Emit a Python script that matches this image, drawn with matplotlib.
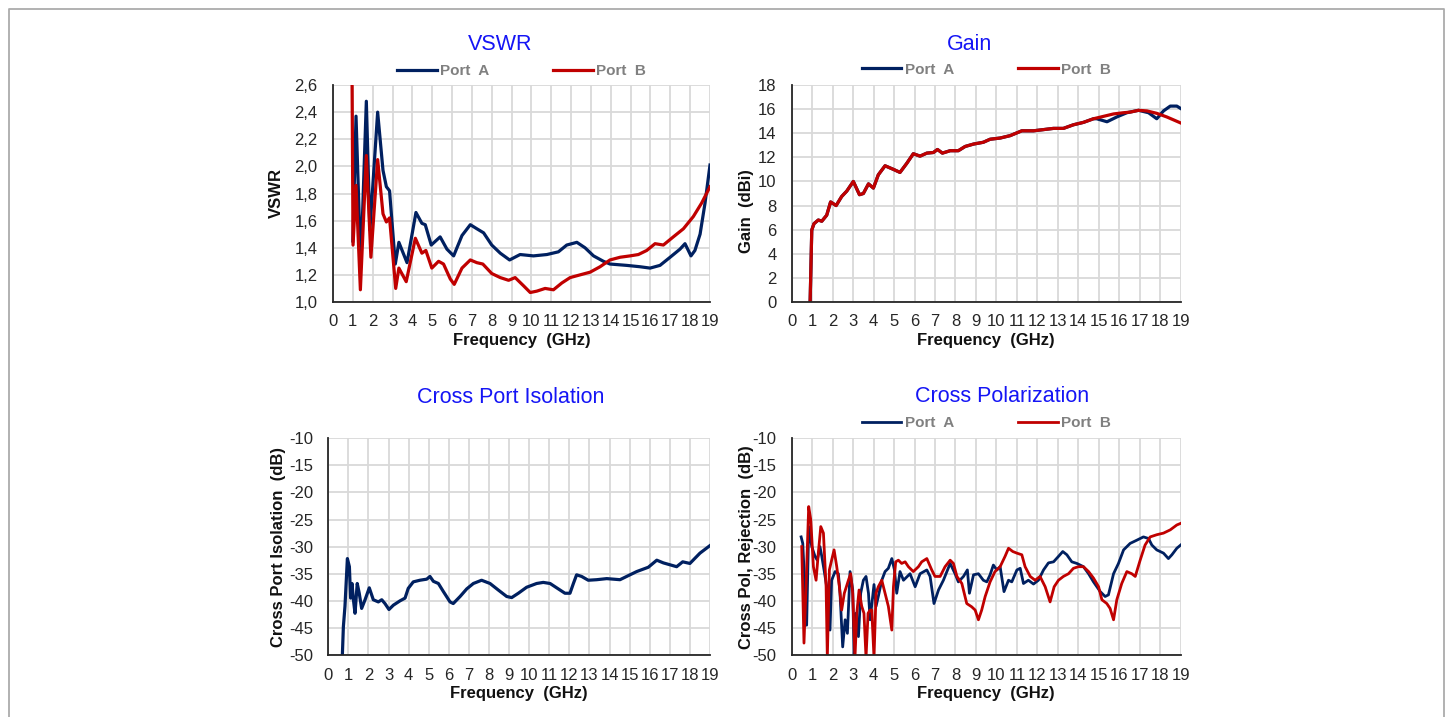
import numpy as np
import matplotlib
matplotlib.use('Agg')
import matplotlib.pyplot as plt
from matplotlib.lines import Line2D

plt.rcParams['font.family'] = ['Liberation Sans', 'DejaVu Sans']

BLUE = '#002060'
RED = '#C00000'
GRID = '#D9D9D9'

# ---- VSWR ----
vswr_a_f = [1.0, 1.16, 1.4, 1.68, 1.86, 2.25, 2.52, 2.69, 2.85, 3.14, 3.32, 3.73, 4.18, 4.48, 4.65, 4.95,
            5.4, 5.74, 6.08, 6.5, 6.92, 7.25, 7.59, 8.0, 8.43, 8.9, 9.43, 10.1, 10.78, 11.36, 11.78, 12.29,
            12.7, 13.13, 13.63, 13.96, 14.8, 15.47, 15.98, 16.48, 16.99, 17.49, 17.74, 18.04, 18.24, 18.5,
            18.75, 19.0]
vswr_a = [1.45, 2.37, 1.26, 2.48, 1.53, 2.40, 1.97, 1.85, 1.82, 1.28, 1.44, 1.29, 1.66, 1.58, 1.57, 1.42,
          1.48, 1.39, 1.34, 1.49, 1.57, 1.54, 1.51, 1.42, 1.36, 1.31, 1.35, 1.34, 1.35, 1.37, 1.42, 1.44,
          1.40, 1.34, 1.30, 1.28, 1.27, 1.26, 1.25, 1.27, 1.33, 1.39, 1.43, 1.34, 1.38, 1.50, 1.73, 2.01]
vswr_b_f = [0.95, 1.01, 1.16, 1.38, 1.68, 1.91, 2.25, 2.52, 2.69, 2.85, 3.16, 3.32, 3.69, 4.15, 4.48, 4.68,
            4.98, 5.32, 5.57, 5.91, 6.11, 6.5, 6.92, 7.25, 7.55, 8.0, 8.43, 8.85, 9.18, 9.6, 9.94, 10.27,
            10.69, 11.11, 11.53, 11.95, 12.45, 12.96, 13.46, 13.96, 14.47, 14.97, 15.39, 15.81, 16.23,
            16.65, 17.15, 17.66, 18.16, 18.58, 19.0]
vswr_b = [2.9, 1.42, 1.86, 1.09, 2.08, 1.33, 2.05, 1.65, 1.59, 1.62, 1.10, 1.25, 1.15, 1.47, 1.36, 1.38,
          1.25, 1.30, 1.28, 1.17, 1.13, 1.25, 1.31, 1.29, 1.28, 1.21, 1.18, 1.16, 1.18, 1.12, 1.07, 1.08,
          1.10, 1.09, 1.14, 1.18, 1.20, 1.22, 1.26, 1.31, 1.33, 1.34, 1.35, 1.38, 1.43,
          1.42, 1.48, 1.54, 1.63, 1.73, 1.85]

# ---- Gain ----
gain_f = [0.9, 0.98, 1.09, 1.3, 1.47, 1.71, 1.9, 2.17, 2.44, 2.69, 3.01, 3.31, 3.5, 3.75, 3.99, 4.23, 4.56,
          4.97, 5.29, 5.62, 5.94, 6.27, 6.6, 6.92, 7.12, 7.36, 7.74, 8.14, 8.47, 8.88, 9.36, 9.69, 10.18,
          10.67, 11.24, 11.81, 12.3, 12.78, 13.27, 13.76, 14.25, 14.74]
gain_common = [0.0, 5.97, 6.5, 6.8, 6.7, 7.2, 8.3, 8.0, 8.75, 9.2, 10.0, 8.9, 9.0, 9.8, 9.45, 10.55, 11.3,
               11.0, 10.75, 11.5, 12.3, 12.1, 12.35, 12.4, 12.65, 12.35, 12.55, 12.55, 12.9, 13.1, 13.25,
               13.5, 13.6, 13.8, 14.2, 14.2, 14.3, 14.4, 14.4, 14.7, 14.9, 15.2]
gain_a_tail_f = [14.9, 15.4, 15.88, 16.37, 16.94, 17.43, 17.83, 18.16, 18.49, 18.81, 19.0]
gain_a_tail = [15.2, 14.95, 15.35, 15.7, 15.9, 15.7, 15.2, 15.85, 16.25, 16.25, 16.05]
gain_b_tail_f = [15.23, 15.72, 16.2, 16.53, 16.94, 17.35, 17.83, 18.32, 19.0]
gain_b_tail = [15.4, 15.6, 15.7, 15.75, 15.9, 15.85, 15.65, 15.35, 14.85]

# ---- Cross Port Isolation ----
iso_f = [0.7, 0.75, 0.83, 0.95, 1.05, 1.11, 1.18, 1.25, 1.33, 1.44, 1.54, 1.66, 1.83, 2.04, 2.24, 2.49,
         2.66, 2.82, 3.02, 3.24, 3.57, 3.82, 3.98, 4.23, 4.56, 4.9, 5.06, 5.23, 5.48, 5.73, 6.06, 6.22,
         6.56, 6.89, 7.22, 7.63, 8.05, 8.46, 8.88, 9.13, 9.46, 9.87, 10.37, 10.7, 11.04, 11.45, 11.78,
         12.03, 12.2, 12.36, 12.61, 12.94, 13.36, 13.86, 14.52, 14.85, 15.35, 15.93, 16.35, 16.68, 17.34,
         17.64, 18.0, 18.5, 19.0]
iso = [-50, -44.8, -41, -32.2, -33.7, -39.5, -36.8, -39.8, -42.3, -36.8, -38.6, -41.4, -39.8, -37.6, -39.8,
       -40.2, -39.8, -40.5, -41.6, -40.8, -40.0, -39.5, -37.7, -36.5, -36.2, -36.0, -35.5, -36.4, -36.8,
       -38.3, -40.2, -40.5, -39.2, -37.8, -36.8, -36.2, -36.8, -38.0, -39.2, -39.4, -38.6, -37.5, -36.8,
       -36.6, -36.8, -37.8, -38.6, -38.6, -36.8, -35.2, -35.5, -36.2, -36.1, -35.9, -36.1, -35.5, -34.6,
       -33.8, -32.5, -33.0, -33.7, -32.8, -33.1, -31.2, -29.8]

# ---- Cross Polarization ----
xpol_a_f = [0.46, 0.54, 0.73, 0.83, 0.98, 1.14, 1.25, 1.38, 1.47, 1.58, 1.71, 1.87, 1.95, 2.12, 2.28, 2.36,
            2.49, 2.61, 2.72, 2.85, 2.98, 3.05, 3.14, 3.26, 3.37, 3.5, 3.63, 3.75, 3.83, 4.02, 4.12, 4.23,
            4.4, 4.56, 4.72, 4.89, 5.02, 5.13, 5.29, 5.46, 5.78, 6.03, 6.27, 6.6, 6.76, 6.95, 7.17, 7.41,
            7.74, 7.98, 8.14, 8.39, 8.58, 8.68, 8.88, 9.12, 9.36, 9.53, 9.69, 9.85, 10.02, 10.18, 10.37,
            10.59, 10.75, 11.0, 11.16, 11.32, 11.56, 11.81, 12.05, 12.3, 12.54, 12.79, 13.03, 13.24, 13.44,
            13.68, 13.93, 14.25, 14.5, 14.74, 15.07, 15.31, 15.47, 15.72, 15.96, 16.21, 16.53, 16.86, 17.18,
            17.43, 17.59, 17.83, 18.16, 18.4, 18.57, 18.81, 19.0]
xpol_a = [-28.2, -29.4, -44.5, -26.3, -30, -31.8, -32.5, -30, -31.8, -34.3, -37.4, -45.4, -36.2, -34.6, -35,
          -38.6, -48.5, -43.5, -46, -34.6, -38, -50.3, -42.3, -46.6, -38.6, -36.2, -35.5, -38.6, -43.5, -37,
          -41, -39.2, -36.2, -34.6, -34, -32.2, -34.3, -38.6, -34.6, -36.2, -35, -37.4, -35, -34.3, -35.5,
          -40.5, -38, -36.2, -33.1, -35, -36.5, -35.5, -34.3, -38.6, -35.2, -35, -36.2, -36.5, -35.2, -33.4,
          -34.3, -33.7, -38.3, -36.2, -36.5, -34.3, -34, -36.8, -36.2, -36.9, -36.2, -34.3, -33, -32.8,
          -31.8, -30.9, -31.5, -32.8, -33.1, -33.7, -35, -36.5, -38.3, -39.2, -38.9, -35, -33.1, -30.6,
          -29.4, -28.8, -28.2, -28.5, -29.7, -30.6, -31.2, -32.2, -31.5, -30.3, -29.7]
xpol_b_f = [0.49, 0.6, 0.7, 0.83, 0.93, 1.06, 1.19, 1.3, 1.42, 1.55, 1.68, 1.74, 1.84, 1.95, 2.07, 2.2, 2.33,
            2.44, 2.57, 2.77, 2.88, 2.98, 3.09, 3.18, 3.29, 3.42, 3.53, 3.63, 3.73, 3.83, 3.91, 4.02, 4.12,
            4.23, 4.4, 4.56, 4.72, 4.89, 4.97, 5.08, 5.21, 5.37, 5.54, 5.7, 5.94, 6.19, 6.35, 6.6, 6.84,
            7.0, 7.25, 7.49, 7.74, 7.9, 8.07, 8.31, 8.55, 8.79, 8.96, 9.12, 9.28, 9.45, 9.69, 9.93, 10.18,
            10.42, 10.59, 10.8, 11.0, 11.24, 11.4, 11.65, 11.89, 12.13, 12.38, 12.62, 12.82, 13.03, 13.27,
            13.52, 13.76, 14.0, 14.25, 14.5, 14.74, 14.99, 15.15, 15.39, 15.55, 15.72, 15.88, 16.12, 16.37,
            16.61, 16.78, 17.02, 17.26, 17.51, 17.83, 18.16, 18.49, 18.81, 19.0]
xpol_b = [-30, -47.8, -37.4, -22.6, -25, -33.7, -36.2, -31.2, -26.3, -27.5, -37.4, -50.5, -34.3, -32.5, -30.6,
          -33.7, -37.4, -41.7, -38.6, -36.2, -35, -38.6, -50.5, -42.3, -38, -41, -42.3, -50.5, -42.3, -41.7,
          -41.7, -50.5, -38.6, -37.4, -36.2, -38.6, -41, -45.4, -37.4, -32.8, -32.5, -33.1, -32.8, -33.7,
          -34.6, -33.7, -32.8, -32.2, -34.3, -35.5, -35.5, -33.7, -32.5, -33.1, -35.5, -36.8, -40.5, -41.1,
          -41.7, -43.5, -41.7, -39.2, -36.5, -34.6, -33.7, -31.8, -30.3, -30.9, -31.2, -31.5, -33.7, -35.5,
          -36.2, -35.5, -37.4, -40.2, -37.4, -36.2, -35.5, -35, -34, -33.7, -33.7, -34.6, -35.8, -37.4,
          -39.8, -40.5, -41.4, -43.5, -39.8, -36.8, -34.6, -35, -35.5, -32.5, -29.7, -28.2, -27.8, -27.5,
          -26.9, -26, -25.7]

freq_ticks = list(range(0, 20))

fig = plt.figure(figsize=(14.53, 7.17), dpi=100)

# light frame round the whole picture
fig.add_artist(Line2D([8.7 / 1453, 8.7 / 1453, 1443.7 / 1453, 1443.7 / 1453],
                      [0, 1 - 9 / 717, 1 - 9 / 717, 0], color='#ABABAB', lw=1.3))


def style_axes(ax, yticks, ylims, ylabel, ylab_x, ylab_y, fmt):
    ax.set_xlim(0, 19)
    ax.set_ylim(*ylims)
    ax.set_xticks(freq_ticks)
    ax.set_xticklabels([str(t) for t in freq_ticks])
    ax.set_yticks(yticks)
    ax.set_yticklabels([fmt(v) for v in yticks])
    ax.grid(True, color=GRID, lw=1.3)
    ax.set_axisbelow(True)
    for s in ['top', 'right']:
        ax.spines[s].set_visible(False)
    for s in ['left', 'bottom']:
        ax.spines[s].set_color('#262626')
        ax.spines[s].set_linewidth(1.3)
    ax.tick_params(length=0, labelsize=12, colors='#262626')
    ax.tick_params(axis='x', pad=9)
    ax.tick_params(axis='y', pad=11)
    ax.set_xlabel('Frequency  (GHz)', fontsize=12, fontweight='bold', va='center', color='#111111')
    ax.xaxis.set_label_coords(0.5, -0.178)
    ax.set_ylabel(ylabel, fontsize=12, fontweight='bold', va='center', color='#111111')
    ax.yaxis.set_label_coords(ylab_x, ylab_y)


def add_legend(ax, y):
    leg = ax.legend(loc='center', bbox_to_anchor=(0.5, y), ncol=2, frameon=False,
                    handlelength=2.6, handletextpad=0.2, columnspacing=4.2,
                    prop={'weight': 'bold', 'size': 11})
    for t in leg.get_texts():
        t.set_color('#808080')


W, H = 1453.0, 717.0


def rect(l, r, t, b):
    return [l / W, 1 - b / H, (r - l) / W, (b - t) / H]


comma = lambda v: ('%.1f' % v).replace('.', ',')
intfmt = lambda v: '%d' % v

# VSWR
ax1 = fig.add_axes(rect(333, 710, 85, 302))
ax1.plot(vswr_a_f, vswr_a, color=BLUE, lw=2.3, label='Port  A')
ax1.plot(vswr_b_f, vswr_b, color=RED, lw=2.3, label='Port  B')
style_axes(ax1, np.round(np.arange(1.0, 2.61, 0.2), 1), (1.0, 2.6), 'VSWR', -0.151, 0.5, comma)
add_legend(ax1, 1.065)

# Gain
ax2 = fig.add_axes(rect(791.7, 1180.7, 85, 302))
ax2.plot(gain_f + gain_a_tail_f, gain_common + gain_a_tail, color=BLUE, lw=2.3, label='Port  A')
ax2.plot(gain_f + gain_b_tail_f, gain_common + gain_b_tail, color=RED, lw=2.3, label='Port  B')
style_axes(ax2, list(range(0, 19, 2)), (0, 18), 'Gain  (dBi)', -0.116, 0.42, intfmt)
add_legend(ax2, 1.07)

# Cross Port Isolation
ax3 = fig.add_axes(rect(328.3, 710, 438.3, 655))
ax3.plot(iso_f, iso, color=BLUE, lw=2.3)
style_axes(ax3, list(range(-50, -9, 5)), (-50, -10), 'Cross Port Isolation  (dB)', -0.131, 0.5, intfmt)

# Cross Polarization
ax4 = fig.add_axes(rect(791.7, 1180.7, 438.3, 655))
ax4.plot(xpol_a_f, xpol_a, color=BLUE, lw=2.0, label='Port  A')
ax4.plot(xpol_b_f, xpol_b, color=RED, lw=2.0, label='Port  B')
style_axes(ax4, list(range(-50, -9, 5)), (-50, -10), 'Cross Pol, Rejection  (dB)', -0.116, 0.5, intfmt)
add_legend(ax4, 1.069)

# titles
title_kw = dict(color='#1515F5', fontsize=15.5, ha='center', va='center')
fig.text(500 / W, 1 - 45 / H, 'VSWR', **title_kw)
fig.text(970 / W, 1 - 45 / H, 'Gain', **title_kw)
fig.text(510.7 / W, 1 - 397.3 / H, 'Cross Port Isolation', **title_kw)
fig.text(1001.7 / W, 1 - 397 / H, 'Cross Polarization', **title_kw)

fig.savefig('out.png', dpi=100)
